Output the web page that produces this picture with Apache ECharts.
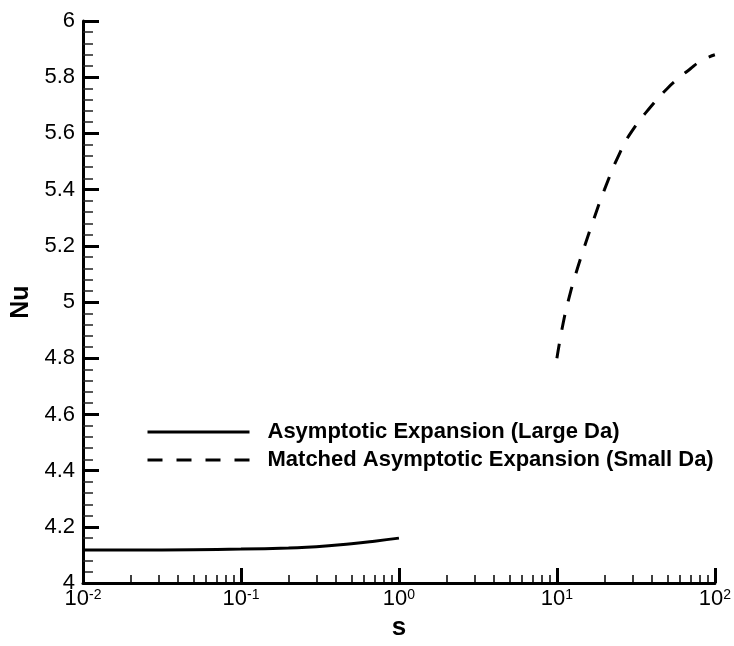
<!DOCTYPE html>
<html>
<head>
<meta charset="utf-8">
<script src="https://cdn.jsdelivr.net/npm/echarts@6/dist/echarts.min.js"></script>
<style>html,body{margin:0;padding:0;background:#fff}#c{width:734px;height:646px}</style>
</head>
<body>
<div id="c"></div>
<script>
// Data
const sLarge = [0.01, 0.02, 0.05, 0.1, 0.2, 0.3, 0.5, 0.7, 1.0];
const nuLarge = [4.118, 4.118, 4.119, 4.121, 4.125, 4.129, 4.140, 4.149, 4.160];
const sSmall = [10, 11, 12, 13, 15, 17, 20, 25, 30, 40, 50, 60, 70, 80, 90, 100];
const nuSmall = [4.80, 4.93, 5.02, 5.09, 5.20, 5.29, 5.40, 5.53, 5.61, 5.70, 5.76, 5.80, 5.83, 5.855, 5.87, 5.88];
const seriesNames = ['Asymptotic Expansion (Large Da)', 'Matched Asymptotic Expansion (Small Da)'];
const xDecades = [-2, -1, 0, 1, 2];
const yTicks = [4, 4.2, 4.4, 4.6, 4.8, 5, 5.2, 5.4, 5.6, 5.8, 6];

const FONT = "'Liberation Sans', Arial, sans-serif";
const minorX = [];
for (let i = 0; i < xDecades.length - 1; i++) {
  for (let k = 2; k <= 9; k++) minorX.push(k * Math.pow(10, xDecades[i]));
}

const chart = echarts.init(document.getElementById('c'));
chart.setOption({
  animation: false,
  backgroundColor: '#fff',
  grid: { left: 83, right: 19, top: 21, bottom: 51, containLabel: false },
  legend: {
    orient: 'vertical',
    left: 146, top: 421, padding: 0,
    icon: 'inherit',
    itemWidth: 102, itemHeight: 20, itemGap: 6,
    itemStyle: { opacity: 0 },
    lineStyle: { width: 3 },
    textStyle: { fontFamily: FONT, fontSize: 22, fontWeight: 'bold', color: '#000', padding: [0, 0, 0, 13] },
    data: seriesNames
  },
  xAxis: [{
    type: 'log', logBase: 10,
    min: Math.pow(10, xDecades[0]), max: Math.pow(10, xDecades[xDecades.length - 1]),
    name: 's', nameLocation: 'middle', nameGap: 27,
    nameTextStyle: { fontFamily: FONT, fontSize: 26, fontWeight: 'bold', color: '#000' },
    axisLine: { show: true, lineStyle: { color: '#000', width: 3 } },
    axisTick: { show: true, inside: true, length: 15, lineStyle: { color: '#000', width: 3 } },
    splitLine: { show: false },
    axisLabel: {
      margin: 5,
      formatter: function (v) { return '{b|10}{s|' + Math.round(Math.log10(v)) + '}'; },
      rich: {
        b: { fontFamily: FONT, fontSize: 22, color: '#000' },
        s: { fontFamily: FONT, fontSize: 14, color: '#000', verticalAlign: 'top', padding: [0, 0, 8, 0] }
      }
    }
  }, {
    type: 'log', logBase: 10, gridIndex: 0, position: 'bottom',
    min: Math.pow(10, xDecades[0]), max: Math.pow(10, xDecades[xDecades.length - 1]),
    axisLine: { show: false },
    axisLabel: { show: false },
    splitLine: { show: false },
    axisTick: { show: true, inside: true, length: 8, customValues: minorX, lineStyle: { color: '#000', width: 1.5 } }
  }],
  yAxis: {
    type: 'value', min: yTicks[0], max: yTicks[yTicks.length - 1], interval: 0.2,
    name: 'Nu', nameLocation: 'middle', nameGap: 44, nameRotate: 90,
    nameTextStyle: { fontFamily: FONT, fontSize: 25, fontWeight: 'bold', color: '#000' },
    axisLine: { show: true, lineStyle: { color: '#000', width: 3 } },
    axisTick: { show: true, inside: true, length: 16, lineStyle: { color: '#000', width: 3 } },
    minorTick: { show: true, splitNumber: 5, length: 10, lineStyle: { color: '#222', width: 1.5 } },
    splitLine: { show: false },
    minorSplitLine: { show: false },
    axisLabel: {
      margin: 8, fontFamily: FONT, fontSize: 22, color: '#000',
      formatter: function (v) { return String(+v.toFixed(1)); }
    }
  },
  series: [{
    name: seriesNames[0], type: 'line', xAxisIndex: 0, showSymbol: false, symbol: 'none', smooth: true,
    lineStyle: { color: '#000', width: 3, type: 'solid' }, itemStyle: { color: '#000' },
    data: sLarge.map((s, i) => [s, nuLarge[i]])
  }, {
    name: seriesNames[1], type: 'line', xAxisIndex: 0, showSymbol: false, symbol: 'none', smooth: true,
    lineStyle: { color: '#000', width: 3, type: [15, 14] }, itemStyle: { color: '#000' },
    data: sSmall.map((s, i) => [s, nuSmall[i]])
  }]
});
</script>
</body>
</html>
